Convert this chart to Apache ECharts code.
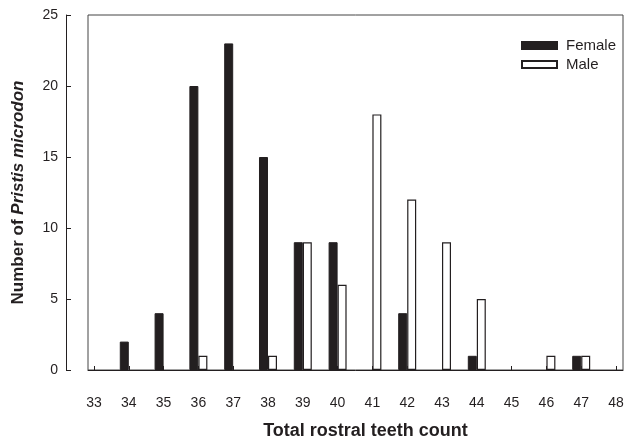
<!DOCTYPE html>
<html>
<head>
<meta charset="utf-8">
<script src="https://cdn.jsdelivr.net/npm/echarts@6/dist/echarts.min.js"></script>
<style>html,body{margin:0;padding:0;background:#fff;overflow:hidden}#c{width:632px;height:445px}</style>
</head>
<body>
<div id="c"></div>
<script>
var toothCounts = [33, 34, 35, 36, 37, 38, 39, 40, 41, 42, 43, 44, 45, 46, 47, 48];
var femaleCounts = [0, 2, 4, 20, 23, 15, 9, 9, 0, 4, 0, 1, 0, 0, 1, 0];
var maleCounts   = [0, 0, 0, 1, 0, 1, 9, 6, 18, 12, 9, 5, 0, 1, 1, 0];
var yTicks = [0, 5, 10, 15, 20, 25];

function pairs(vals) {
  var out = [];
  for (var i = 0; i < toothCounts.length; i++) {
    if (vals[i] > 0) out.push([toothCounts[i], vals[i]]);
  }
  return out;
}

var font = 'Liberation Sans, Arial, sans-serif';
var ink = '#231f20';
var chart = echarts.init(document.getElementById('c'), null, {renderer: 'canvas'});
chart.setOption({
  animation: false,
  backgroundColor: '#fff',
  textStyle: {fontFamily: font, color: ink},
  grid: {left: 88, right: 9, top: 15, height: 360, show: true, borderColor: '#444', borderWidth: 1, backgroundColor: 'transparent'},
  legend: {
    orient: 'vertical', left: 516, top: 33, itemWidth: 35, itemHeight: 7, itemGap: 4,
    icon: 'rect',
    textStyle: {fontFamily: font, fontSize: 15, color: ink, lineHeight: 15, padding: [0, 0, 0, 4]},
    data: ['Female', 'Male']
  },
  xAxis: {
    type: 'value', min: 32.828, max: 48.201, offset: 12,
    name: 'Total rostral teeth count', nameLocation: 'middle', nameGap: 40,
    nameTextStyle: {fontFamily: font, fontSize: 18, fontWeight: 'bold', color: ink, padding: [0, 0, 0, 20]},
    axisLine: {show: true, lineStyle: {color: ink, width: 1}},
    axisTick: {show: true, inside: true, length: 4, customValues: toothCounts, lineStyle: {color: ink}},
    axisLabel: {show: true, customValues: toothCounts, fontFamily: font, fontSize: 14, color: ink, margin: 14},
    splitLine: {show: false}
  },
  yAxis: {
    type: 'value', min: 0, max: 25, interval: 5, offset: 22,
    name: 'Number of {i|Pristis microdon}', nameLocation: 'middle', nameGap: 39,
    nameTextStyle: {fontFamily: font, fontSize: 17, fontWeight: 'bold', color: ink,
      rich: {i: {fontFamily: font, fontSize: 17, fontWeight: 'bold', fontStyle: 'italic', color: ink}}},
    axisLine: {show: true, lineStyle: {color: ink, width: 1}},
    axisTick: {show: true, inside: true, length: 5, customValues: yTicks, lineStyle: {color: ink}},
    axisLabel: {fontFamily: font, fontSize: 14, color: ink, margin: 8, customValues: yTicks},
    splitLine: {show: false}
  },
  series: [
    {name: 'Female', type: 'bar', data: pairs(femaleCounts), barWidth: 9, barGap: '0%',
     itemStyle: {color: ink, borderColor: ink, borderWidth: 1}},
    {name: 'Male', type: 'bar', data: pairs(maleCounts), barWidth: 9, barGap: '0%',
     itemStyle: {color: '#fff', borderColor: ink, borderWidth: 1.2}}
  ]
});
</script>
</body>
</html>
